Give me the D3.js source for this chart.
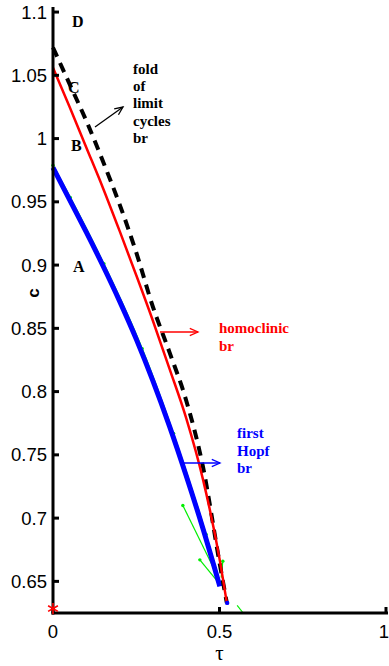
<!DOCTYPE html>
<html>
<head>
<meta charset="utf-8">
<script src="https://cdn.jsdelivr.net/npm/d3@7"></script>
<style>
  html, body { margin: 0; padding: 0; background: #fff; }
  svg { display: block; }
</style>
</head>
<body>
<svg id="chart" width="389" height="666"></svg>
<script>
// Two-parameter bifurcation branches in the (tau, c) plane
const hopfTau = [0, 0.05, 0.1, 0.15, 0.2, 0.25, 0.3, 0.35, 0.4, 0.45, 0.501];
const hopfC   = [0.977, 0.9515, 0.926, 0.8995, 0.8715, 0.8415, 0.8085, 0.7725, 0.7335, 0.692, 0.646];

const homTau = [0, 0.05, 0.1, 0.15, 0.2, 0.25, 0.3, 0.35, 0.4, 0.45, 0.5, 0.522];
const homC   = [1.056, 1.025, 0.993, 0.961, 0.927, 0.892, 0.856, 0.818, 0.779, 0.731, 0.668, 0.633];

const foldTau = [0, 0.05, 0.1, 0.15, 0.2, 0.25, 0.3, 0.35, 0.4, 0.45, 0.5, 0.522];
const foldC   = [1.072, 1.043, 1.014, 0.982, 0.948, 0.910, 0.867, 0.831, 0.793, 0.741, 0.665, 0.633];

// continuation points of the Hopf computation (thin green)
const gridTau = [0, 0.052, 0.153, 0.268, 0.362, 0.46, 0.503];
const gridC   = [0.979, 0.9535, 0.901, 0.834, 0.767, 0.687, 0.648];

// stray green correction segments near the cusp
const segTau0 = [0.390, 0.441, 0.510, 0.553];
const segC0   = [0.710, 0.667, 0.666, 0.631];
const segTau1 = [0.498, 0.497, 0.505, 0.571];
const segC1   = [0.652, 0.649, 0.653, 0.625];

const markTau = [0];       // red star on the axis
const markC   = [0.6285];
const endTau  = [0.523];   // end point of homoclinic branch
const endC    = [0.633];

const xTicks = [0, 0.5, 1];
const xTickLabels = ["0", "0.5", "1"];
const yTicks = [0.65, 0.7, 0.75, 0.8, 0.85, 0.9, 0.95, 1, 1.05, 1.1];
const yTickLabels = ["0.65", "0.7", "0.75", "0.8", "0.85", "0.9", "0.95", "1", "1.05", "1.1"];

const letters = ["D", "C", "B", "A"];
const foldText = ["fold", "of", "limit", "cycles", "br"];
const homText = ["homoclinic", "br"];
const hopfText = ["first", "Hopf", "br"];

const svg = d3.select("#chart");
const x = d3.scaleLinear().domain([0, 1]).range([53, 386]);
const y = d3.scaleLinear().domain([0.625, 1.104]).range([613, 7]);

const line = d3.line().x(d => x(d[0])).y(d => y(d[1])).curve(d3.curveMonotoneX);
const zip = (a, b) => a.map((v, i) => [v, b[i]]);

// green continuation trace under the blue branch
svg.append("path").attr("d", line(zip(gridTau, gridC)))
  .attr("fill", "none").attr("stroke", "#00ee00").attr("stroke-width", 1.2);
svg.selectAll(".gdot").data(zip(gridTau, gridC)).join("circle")
  .attr("cx", d => x(d[0])).attr("cy", d => y(d[1])).attr("r", 1.7).attr("fill", "#00ee00");

segTau0.forEach((t, i) => {
  svg.append("line")
    .attr("x1", x(t)).attr("y1", y(segC0[i]))
    .attr("x2", x(segTau1[i])).attr("y2", y(segC1[i]))
    .attr("stroke", "#00ee00").attr("stroke-width", 1.2);
  if (i < 3) svg.append("circle").attr("cx", x(t)).attr("cy", y(segC0[i])).attr("r", 1.7).attr("fill", "#00ee00");
});

// first Hopf branch
svg.append("path").attr("d", line(zip(hopfTau, hopfC)))
  .attr("fill", "none").attr("stroke", "#0000ff").attr("stroke-width", 5);

// fold of limit cycles branch
svg.append("path").attr("d", line(zip(foldTau, foldC)))
  .attr("fill", "none").attr("stroke", "#000").attr("stroke-width", 4)
  .attr("stroke-dasharray", "10,7");

// homoclinic branch
svg.append("path").attr("d", line(zip(homTau, homC)))
  .attr("fill", "none").attr("stroke", "#ff0000").attr("stroke-width", 2.5);

svg.selectAll(".end").data(zip(endTau, endC)).join("circle")
  .attr("cx", d => x(d[0])).attr("cy", d => y(d[1])).attr("r", 2.2).attr("fill", "#0000ff");

// axes
const axes = svg.append("g").attr("stroke", "#000").attr("stroke-width", 3);
axes.append("line").attr("x1", x(0)).attr("x2", x(0)).attr("y1", y(1.104)).attr("y2", y(0.625) + 1.5);
axes.append("line").attr("x1", x(0) - 1.5).attr("x2", x(1) + 2).attr("y1", y(0.625)).attr("y2", y(0.625));
yTicks.forEach(v => axes.append("line").attr("x1", x(0)).attr("x2", x(0) + 6).attr("y1", y(v)).attr("y2", y(v)));
xTicks.forEach(v => axes.append("line").attr("x1", x(v)).attr("x2", x(v)).attr("y1", y(0.625)).attr("y2", y(0.625) - 6));

svg.selectAll(".star").data(zip(markTau, markC)).join("path")
  .attr("transform", d => `translate(${x(d[0])},${y(d[1])})`)
  .attr("d", d3.symbol(d3.symbolAsterisk, 90))
  .attr("fill", "none").attr("stroke", "#ff0000").attr("stroke-width", 1.6);

const sans = "'Liberation Sans', Arial, sans-serif";
const serif = "'Liberation Serif', 'Times New Roman', serif";

yTicks.forEach((v, i) => svg.append("text")
  .attr("x", x(0) - 6).attr("y", y(v) + 6.5).attr("text-anchor", "end")
  .attr("font-family", sans).attr("font-size", 18.5).text(yTickLabels[i]));
xTicks.forEach((v, i) => svg.append("text")
  .attr("x", i === xTicks.length - 1 ? 389 : x(v)).attr("y", 638)
  .attr("text-anchor", i === xTicks.length - 1 ? "end" : "middle")
  .attr("font-family", sans).attr("font-size", 18.5).text(xTickLabels[i]));

svg.append("text").attr("x", x(0.5)).attr("y", 660).attr("text-anchor", "middle")
  .attr("font-family", serif).attr("font-size", 21).text("τ");
svg.append("text").attr("transform", "translate(39,293) rotate(-90)")
  .attr("text-anchor", "middle").attr("font-family", sans).attr("font-weight", "bold")
  .attr("font-size", 17).text("c");

// region letters
const letterPos = [[72, 27], [68, 93], [71, 151], [73, 272]];
letters.forEach((t, i) => svg.append("text")
  .attr("x", letterPos[i][0]).attr("y", letterPos[i][1])
  .attr("font-family", serif).attr("font-weight", "bold").attr("font-size", 16).text(t));

function block(lines, x0, y0, dy, color) {
  lines.forEach((t, i) => svg.append("text").attr("x", x0).attr("y", y0 + i * dy)
    .attr("font-family", serif).attr("font-weight", "bold").attr("font-size", 15)
    .attr("fill", color).text(t));
}
block(foldText, 133, 74, 17.2, "#000");
block(homText, 219, 333, 17.5, "#ff0000");
block(hopfText, 237, 438, 17.5, "#0000ff");

function arrow(x1, y1, x2, y2, color) {
  const a = Math.atan2(y2 - y1, x2 - x1), L = 9, w = 0.42;
  const g = svg.append("g").attr("stroke", color).attr("stroke-width", 1.3).attr("fill", "none");
  g.append("line").attr("x1", x1).attr("y1", y1).attr("x2", x2).attr("y2", y2);
  g.append("path").attr("d",
    `M${x2 - L * Math.cos(a - w)},${y2 - L * Math.sin(a - w)}L${x2},${y2}L${x2 - L * Math.cos(a + w)},${y2 - L * Math.sin(a + w)}`);
}
arrow(95, 127, 123, 107, "#000");
arrow(160, 332, 198, 332, "#ff0000");
arrow(183, 463, 220, 463, "#0000ff");
</script>
</body>
</html>
